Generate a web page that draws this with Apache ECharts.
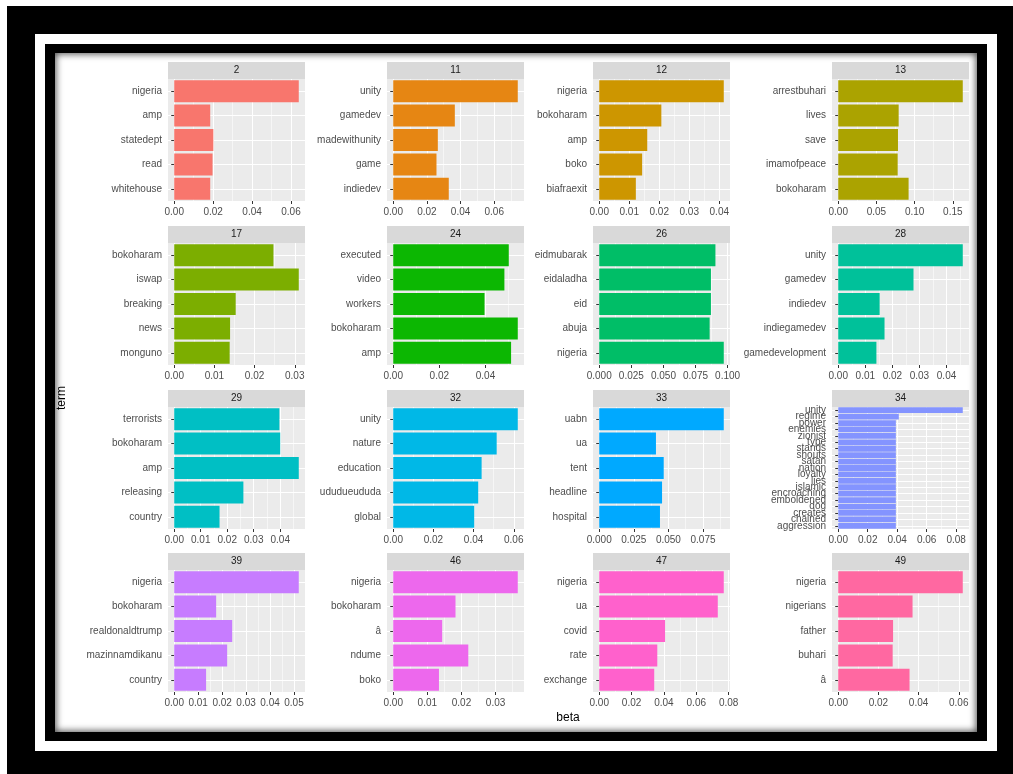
<!DOCTYPE html>
<html>
<head>
<meta charset="utf-8">
<script src="https://cdn.jsdelivr.net/npm/echarts@6/dist/echarts.min.js"></script>
<style>
  html, body { margin: 0; padding: 0; background: #ffffff; }
  .f { position: absolute; }
  #chart { position: absolute; left: 0; top: 0; width: 1013px; height: 774px; z-index: 10; }
</style>
</head>
<body>
<div class="f" style="left:7px;top:6px;width:1006px;height:768px;background:#000;"></div>
<div class="f" style="left:35px;top:34px;width:962px;height:717px;background:#fff;"></div>
<div class="f" style="left:45px;top:44px;width:942px;height:697px;background:#000;"></div>
<div class="f" style="left:55px;top:53px;width:922px;height:679px;background:#fff;box-shadow:inset 0 0 7px 1px rgba(0,0,0,0.7);"></div>
<div id="chart"></div>
<script>
// ---------- data ----------
const facets = ['2','11','12','13','17','24','26','28','29','32','33','34','39','46','47','49'];
const terms = [
  ['nigeria','amp','statedept','read','whitehouse'],
  ['unity','gamedev','madewithunity','game','indiedev'],
  ['nigeria','bokoharam','amp','boko','biafraexit'],
  ['arrestbuhari','lives','save','imamofpeace','bokoharam'],
  ['bokoharam','iswap','breaking','news','monguno'],
  ['executed','video','workers','bokoharam','amp'],
  ['eidmubarak','eidaladha','eid','abuja','nigeria'],
  ['unity','gamedev','indiedev','indiegamedev','gamedevelopment'],
  ['terrorists','bokoharam','amp','releasing','country'],
  ['unity','nature','education','ududueududa','global'],
  ['uabn','ua','tent','headline','hospital'],
  ['unity','regime','power','enemies','zionist','type','stands','shouts','satan','nation','loyalty','lies','islamic','encroaching','emboldened','dog','creates','chained','aggression'],
  ['nigeria','bokoharam','realdonaldtrump','mazinnamdikanu','country'],
  ['nigeria','bokoharam','â','ndume','boko'],
  ['nigeria','ua','covid','rate','exchange'],
  ['nigeria','nigerians','father','buhari','â']
];
const betas = [
  [0.064, 0.0185, 0.0201, 0.0197, 0.0185],
  [0.074, 0.0366, 0.0265, 0.0257, 0.0330],
  [0.0415, 0.0207, 0.0160, 0.0143, 0.0122],
  [0.163, 0.0791, 0.0782, 0.0778, 0.0921],
  [0.0247, 0.031, 0.0153, 0.0139, 0.0138],
  [0.0501, 0.0482, 0.0396, 0.054, 0.0511],
  [0.0905, 0.087, 0.087, 0.086, 0.097],
  [0.046, 0.0278, 0.0153, 0.0171, 0.0141],
  [0.0397, 0.040, 0.047, 0.0261, 0.0171],
  [0.062, 0.0515, 0.044, 0.0423, 0.0403],
  [0.09, 0.041, 0.0466, 0.0454, 0.0439],
  [0.0845, 0.0411, 0.0391, 0.0391, 0.0391, 0.0391, 0.0391, 0.0391, 0.0391, 0.0391, 0.0391, 0.0391, 0.0391, 0.0391, 0.0391, 0.0391, 0.0391, 0.0391, 0.0391],
  [0.052, 0.0175, 0.0242, 0.0221, 0.0133],
  [0.0365, 0.01825, 0.01435, 0.022, 0.0134],
  [0.077, 0.0733, 0.0407, 0.0359, 0.034],
  [0.062, 0.037, 0.0273, 0.0271, 0.0355]
];
const tickLabels = [
  ['0.00','0.02','0.04','0.06'],
  ['0.00','0.02','0.04','0.06'],
  ['0.00','0.01','0.02','0.03','0.04'],
  ['0.00','0.05','0.10','0.15'],
  ['0.00','0.01','0.02','0.03'],
  ['0.00','0.02','0.04'],
  ['0.000','0.025','0.050','0.075','0.100'],
  ['0.00','0.01','0.02','0.03','0.04'],
  ['0.00','0.01','0.02','0.03','0.04'],
  ['0.00','0.02','0.04','0.06'],
  ['0.000','0.025','0.050','0.075'],
  ['0.00','0.02','0.04','0.06','0.08'],
  ['0.00','0.01','0.02','0.03','0.04','0.05'],
  ['0.00','0.01','0.02','0.03'],
  ['0.00','0.02','0.04','0.06','0.08'],
  ['0.00','0.02','0.04','0.06']
];
const colors = ['#F8766D','#E68613','#CD9600','#ABA300','#7CAE00','#0CB702','#00BE67','#00C19A',
                '#00BFC4','#00B8E7','#00A9FF','#8494FF','#C77CFF','#ED68ED','#FF61CC','#FF68A1'];
const xTitle = 'beta';
const yTitle = 'term';

// ---------- layout ----------
const colLeft = [168, 387, 593, 832];
const rowTop = [79, 243, 407, 570];
const panelW = 137, panelH = 122, stripH = 17;
const FONT = "'Liberation Sans', Arial, Helvetica, sans-serif";

const grid = [], xAxis = [], yAxis = [], series = [], graphic = [];

facets.forEach((f, i) => {
  const col = i % 4, row = Math.floor(i / 4);
  const left = colLeft[col], top = rowTop[row];
  const vals = betas[i];
  const mx = Math.max(...vals);
  const lo = -0.05 * mx, hi = 1.05 * mx;
  const ticks = tickLabels[i].map(Number);
  const step = ticks[1] - ticks[0];
  const minors = [];
  for (let k = 0; k < ticks.length; k++) {
    const m = ticks[k] + step / 2;
    if (m <= hi) minors.push(+m.toFixed(6));
    const m2 = ticks[k] - step / 2;
    if (k === 0 && m2 >= lo) minors.push(+m2.toFixed(6));
  }
  const n = terms[i].length;
  const centers = [];
  for (let k = 1; k <= n; k++) centers.push(k);

  grid.push({ left: left, top: top, width: panelW, height: panelH, show: true,
              backgroundColor: '#EBEBEB', borderWidth: 0, containLabel: false });

  // main x axis
  xAxis.push({
    type: 'value', gridIndex: i, min: lo, max: hi,
    axisLine: { show: false },
    axisTick: { show: true, length: 3, lineStyle: { color: '#333333', width: 1 }, customValues: ticks },
    axisLabel: { show: true, customValues: ticks, fontSize: 10, color: '#4D4D4D', margin: 6, fontFamily: FONT,
                 formatter: (v) => {
                   let best = 0, d = Infinity;
                   ticks.forEach((t, j) => { if (Math.abs(t - v) < d) { d = Math.abs(t - v); best = j; } });
                   return tickLabels[i][best];
                 } },
    splitLine: { show: true, lineStyle: { color: '#FFFFFF', width: 1.1 } },
    z: 2
  });
  // minor gridlines x
  xAxis.push({
    type: 'value', gridIndex: i, min: lo, max: hi,
    axisLine: { show: false },
    axisTick: { show: false, customValues: minors },
    axisLabel: { show: false, customValues: minors },
    splitLine: { show: true, lineStyle: { color: '#FFFFFF', width: 0.55 } },
    z: 1
  });
  // category y axis
  yAxis.push({
    type: 'category', gridIndex: i, data: terms[i], inverse: true,
    axisLine: { show: false },
    axisTick: { show: true, alignWithLabel: true, length: 3, interval: 0, lineStyle: { color: '#333333', width: 1 } },
    axisLabel: { show: true, interval: 0, fontSize: 10, color: '#4D4D4D', margin: 6, fontFamily: FONT },
    splitLine: { show: false }
  });
  // horizontal gridlines at category centres
  yAxis.push({
    type: 'value', gridIndex: i, min: 0.5, max: n + 0.5,
    axisLine: { show: false },
    axisTick: { show: false, customValues: centers },
    axisLabel: { show: false, customValues: centers },
    splitLine: { show: true, lineStyle: { color: '#FFFFFF', width: 1.1 } }
  });

  series.push({
    type: 'bar', xAxisIndex: 2 * i, yAxisIndex: 2 * i,
    data: vals, barCategoryGap: '10%',
    itemStyle: { color: colors[i] },
    silent: true, animation: false
  });

  // facet strip
  graphic.push({ type: 'rect', silent: true, z: 5,
    shape: { x: left, y: top - stripH, width: panelW, height: stripH },
    style: { fill: '#D9D9D9' } });
  graphic.push({ type: 'text', silent: true, z: 6,
    x: left + panelW / 2, y: top - stripH / 2,
    style: { text: f, fill: '#1A1A1A', fontSize: 10, fontFamily: FONT, align: 'center', verticalAlign: 'middle' } });
});

graphic.push({ type: 'text', silent: true, x: 568, y: 718,
  style: { text: xTitle, fill: '#000000', fontSize: 12, fontFamily: FONT, align: 'center', verticalAlign: 'middle' } });
graphic.push({ type: 'text', silent: true, x: 62, y: 398, rotation: Math.PI / 2,
  style: { text: yTitle, fill: '#000000', fontSize: 12, fontFamily: FONT, align: 'center', verticalAlign: 'middle' } });

const chart = echarts.init(document.getElementById('chart'), null, { renderer: 'canvas' });
chart.setOption({
  backgroundColor: 'transparent',
  animation: false,
  grid, xAxis, yAxis, series, graphic
});
</script>
</body>
</html>
